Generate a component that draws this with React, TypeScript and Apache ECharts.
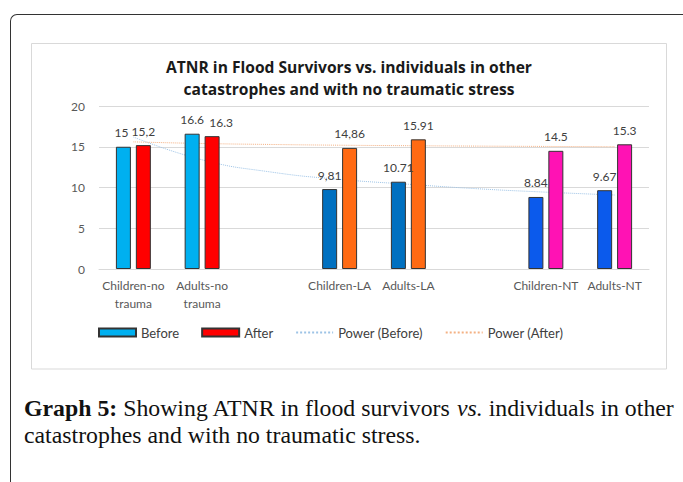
import React, { useEffect, useRef } from "react";
import * as echarts from "echarts";

const categories = [
  "Children-no\ntrauma",
  "Adults-no\ntrauma",
  "",
  "Children-LA",
  "Adults-LA",
  "",
  "Children-NT",
  "Adults-NT",
];
const beforeValues: (number | null)[] = [15, 16.6, null, 9.81, 10.71, null, 8.84, 9.67];
const afterValues: (number | null)[] = [15.2, 16.3, null, 14.86, 15.91, null, 14.5, 15.3];
const beforeLabels = ["15", "16.6", "", "9,81", "10.71", "", "8.84", "9.67"];
const afterLabels = ["15,2", "16.3", "", "14,86", "15.91", "", "14.5", "15.3"];
const beforeColors = ["#00B0F0", "#00B0F0", "", "#0070C0", "#0070C0", "", "#0B5AEC", "#0B5AEC"];
const afterColors = ["#FF0000", "#FF0000", "", "#FF6A13", "#FF6A13", "", "#FF12B4", "#FF12B4"];
// trend lines at each category slot
const powerBefore = [16.2, 13.4, 11.9, 11.0, 10.4, 9.85, 9.43, 9.08];
const powerAfter = [15.6, 15.4, 15.28, 15.19, 15.13, 15.08, 15.04, 15.0];
const yTicks = [0, 5, 10, 15, 20];
const legendNames = ["Before", "After", "Power (Before)", "Power (After)"];
const titleLines = [
  "ATNR in Flood Survivors vs. individuals in other",
  "catastrophes and with no traumatic stress",
];

const FONT = "Lato, 'Open Sans', sans-serif";
const TITLE_FONT = "'Open Sans', Lato, sans-serif";
const SERIF = "'Liberation Serif', serif";

export default function App() {
  const ref = useRef<HTMLDivElement>(null);
  useEffect(() => {
    if (!ref.current) return;
    const chart = echarts.init(ref.current, undefined, { renderer: "svg" });
    const labelOffsets: Record<string, number[]> = { "16.3": [9, 0], "15": [-2, 0] };
    const mkBar = (vals: (number | null)[], colors: string[], labels: string[]) =>
      vals.map((v, i) =>
        v == null
          ? "-"
          : {
              value: v,
              itemStyle: { color: colors[i] },
              label: labelOffsets[labels[i]] ? { offset: labelOffsets[labels[i]] } : undefined,
            }
      );
    chart.setOption({
      animation: false,
      textStyle: { fontFamily: FONT },
      grid: { left: 99, right: 34, top: 106, bottom: 213, containLabel: false },
      xAxis: {
        type: "category",
        data: categories,
        axisTick: { show: false },
        axisLine: { lineStyle: { color: "#D9D9D9" } },
        axisLabel: {
          interval: 0,
          color: "#595959",
          fontSize: 12,
          lineHeight: 18,
          margin: 7,
          fontFamily: FONT,
        },
      },
      yAxis: {
        type: "value",
        min: yTicks[0],
        max: yTicks[yTicks.length - 1],
        interval: 5,
        axisLine: { show: false },
        axisTick: { show: false },
        axisLabel: { color: "#595959", fontSize: 12, margin: 14, fontFamily: FONT },
        splitLine: { lineStyle: { color: "#D9D9D9", width: 1 } },
      },
      legend: {
        data: [
          { name: legendNames[0], icon: "rect" },
          { name: legendNames[1], icon: "rect" },
          { name: legendNames[2], itemStyle: { opacity: 0 } },
          { name: legendNames[3], itemStyle: { opacity: 0 } },
        ],
        left: 93,
        top: 321,
        itemWidth: 37,
        itemHeight: 8,
        itemGap: 22,
        textStyle: { color: "#404040", fontSize: 13, fontFamily: FONT },
      },
      graphic: [
        {
          type: "rect",
          shape: { x: 31.5, y: 43.5, width: 635, height: 325.5 },
          style: { fill: "none", stroke: "#D9D9D9", lineWidth: 1 },
          z: -10,
          silent: true,
        },
        {
          type: "text",
          x: 349,
          y: 67,
          style: {
            text: titleLines[0],
            font: `bold 15.6px ${TITLE_FONT}`,
            fill: "#1a1a1a",
            align: "center",
            verticalAlign: "middle",
          },
        },
        {
          type: "text",
          x: 349,
          y: 89,
          style: {
            text: titleLines[1],
            font: `bold 15.6px ${TITLE_FONT}`,
            fill: "#1a1a1a",
            align: "center",
            verticalAlign: "middle",
          },
        },
        {
          type: "text",
          x: 24,
          y: 408,
          style: {
            text: "{b|Graph 5:} Showing ATNR in flood survivors {i|vs.} individuals in other",
            font: `23.8px ${SERIF}`,
            fill: "#111",
            verticalAlign: "middle",
            rich: {
              b: { fontWeight: "bold", fontSize: 23.8, fontFamily: SERIF, fill: "#111" },
              i: { fontStyle: "italic", fontSize: 23.8, fontFamily: SERIF, fill: "#111" },
            },
          },
        },
        {
          type: "text",
          x: 24,
          y: 435,
          style: {
            text: "catastrophes and with no traumatic stress.",
            font: `23.8px ${SERIF}`,
            fill: "#111",
            verticalAlign: "middle",
          },
        },
      ],
      series: [
        {
          name: legendNames[0],
          type: "bar",
          data: mkBar(beforeValues, beforeColors, beforeLabels),
          barWidth: 15,
          barGap: "33%",
          itemStyle: { color: "#00B0F0", borderColor: "#333", borderWidth: 1 },
          label: {
            show: true,
            position: "top",
            distance: 8,
            color: "#404040",
            fontSize: 12,
            fontFamily: FONT,
            formatter: (p: any) => beforeLabels[p.dataIndex],
          },
          z: 3,
        },
        {
          name: legendNames[1],
          type: "bar",
          data: mkBar(afterValues, afterColors, afterLabels),
          barWidth: 15,
          itemStyle: { color: "#FF0000", borderColor: "#333", borderWidth: 1 },
          label: {
            show: true,
            position: "top",
            distance: 8,
            color: "#404040",
            fontSize: 12,
            fontFamily: FONT,
            formatter: (p: any) => afterLabels[p.dataIndex],
          },
          z: 3,
        },
        {
          name: legendNames[2],
          type: "line",
          data: powerBefore,
          smooth: true,
          symbol: "none",
          showSymbol: false,
          lineStyle: { color: "#9DC3E6", width: 1, type: "dotted" },
          itemStyle: { color: "#9DC3E6" },
          z: 1,
        },
        {
          name: legendNames[3],
          type: "line",
          data: powerAfter,
          smooth: true,
          symbol: "none",
          showSymbol: false,
          lineStyle: { color: "#F4B183", width: 1, type: "dotted" },
          itemStyle: { color: "#F4B183" },
          z: 1,
        },
      ],
    });
    return () => chart.dispose();
  }, []);

  return (
    <div style={{ position: "fixed", left: 0, top: 0, width: 683, height: 482, background: "#fff", overflow: "hidden" }}>
      <div
        style={{
          position: "absolute",
          left: 10,
          top: 14,
          width: 700,
          height: 520,
          borderTop: "1.5px solid #333",
          borderLeft: "1.5px solid #333",
          borderTopLeftRadius: 7,
          boxSizing: "border-box",
        }}
      />
      <div ref={ref} style={{ position: "absolute", left: 0, top: 0, width: 683, height: 482 }} />
    </div>
  );
}
